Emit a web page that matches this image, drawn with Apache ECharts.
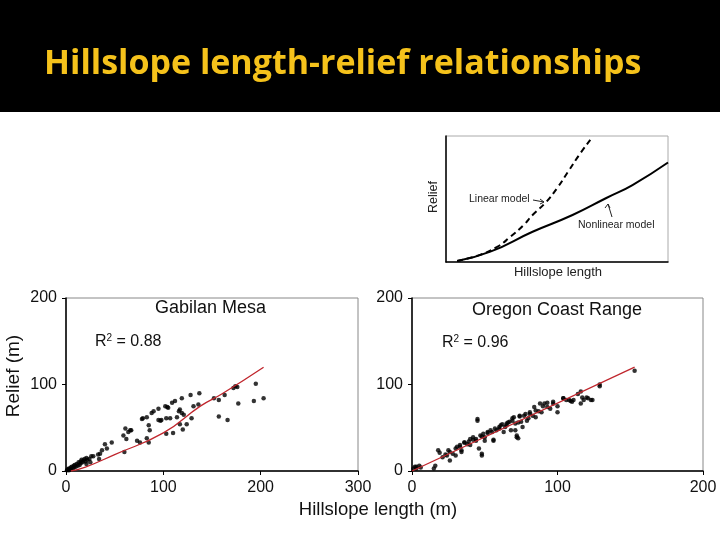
<!DOCTYPE html>
<html>
<head>
<meta charset="utf-8">
<script src="https://cdn.jsdelivr.net/npm/echarts@6/dist/echarts.min.js"></script>
<style>
  html, body { margin: 0; padding: 0; background: #fff; }
  #main { width: 720px; height: 540px; }
</style>
</head>
<body>
<div id="main"></div>
<script>
// Gabilan Mesa: hillslope length (m), relief (m)
var gabilanPoints = [
  [1,1],[2,2],[3,1],[3,3],[4,2],[5,4],[5,2],[6,5],[7,3],[8,6],[8,4],[9,7],[10,5],[11,8],
  [12,6],[13,10],[14,7],[15,11],[15,9],[16,13],[17,10],[18,12],[19,14],[20,11],[21,15],
  [22,13],[24,14],[25,10],[26,17],[21,8],
  [28,17],[33,19],[34,14],[35,20],[37,24],[40,31],[42,26],[47,33],
  [59,41],[60,22],[61,49],[62,37],[64,45],[66,47],[67,47],
  [73,35],[76,33],[78,60],[79,61],[83,62],[83,38],[85,53],[85,33],[86,47],[88,67],
  [90,69],[95,72],[95,59],[97,58],[98,59],[102,75],[103,61],[103,43],[104,74],[105,73],
  [107,61],[109,79],[110,44],[112,81],[114,62],[116,69],[117,71],[117,54],[119,67],
  [119,84],[120,48],[121,65],[124,54],[128,88],[129,61],[131,75],[136,77],[137,90],
  [152,84],[157,82],[157,63],[163,88],[166,59],[172,96],[174,98],[176,97],[177,78],
  [193,81],[195,101],[203,84]
];
var gabilanFit = [[5,0],[20,4.5],[50,19],[100,44],[138,75],[160,89],[203,120]];

// Oregon Coast Range
var oregonPoints = [
  [1,3],[2,5],[3,5],[3,3],[5,6],[6,4],[15,3],[16,6],[18,24],[19,21],[21,16],[23,19],
  [24,18],[25,24],[26,22],[26,12],[28,20],[30,18],[30,26],[31,28],[33,30],[33,28],
  [34,22],[34,24],[36,33],[36,33],[39,34],[38,31],[40,30],[40,37],[42,36],[42,39],
  [44,37],[44,35],[45,60],[45,58],[46,26],[48,40],[48,18],[48,20],[47,41],[49,43],
  [50,39],[50,35],[52,44],[52,45],[54,47],[55,45],[56,35],[56,36],[57,49],[58,47],
  [60,51],[60,49],[61,53],[62,54],[63,45],[64,51],[65,53],[65,55],[66,56],[67,57],
  [68,47],[69,58],[69,61],[70,62],[71,55],[71,47],[72,41],[72,39],[73,38],[73,56],
  [74,63],[74,64],[75,57],[76,51],[77,64],[78,66],[79,58],[80,61],[81,66],[81,68],
  [83,64],[84,74],[85,62],[85,70],[87,69],[88,78],[89,68],[90,75],[91,78],[93,79],
  [93,74],[95,72],[97,78],[97,80],[100,75],[100,68],[104,84],[104,84],[106,82],
  [108,82],[109,81],[110,80],[111,82],[114,89],[116,92],[116,78],[117,85],[118,82],
  [120,85],[121,84],[123,82],[124,82],[129,98],[129,100],[153,116]
];
var oregonFit = [[0,0],[153,120]];

// schematic inset (arbitrary units)
var nonlinearModel = [[5,0.8],[20,8.2],[39,24],[57,37.3],[72,50.6],[84,61.1],[100,79]];
var linearModel = [[5,0.8],[15,5.5],[23,12],[29,20],[35,29.4],[39,37.3],[45,47.4],[50,58.5],[55,71.7],[60,85],[65,97]];

var myChart = echarts.init(document.getElementById('main'));
var font = 'Liberation Sans, Arial, sans-serif';

function xAx(idx, max, show) {
  return {
    type: 'value', gridIndex: idx, min: 0, max: max, interval: show ? 100 : null,
    axisLine: { show: true, onZero: false, lineStyle: { color: '#000', width: 1.5 } },
    axisTick: { show: show, length: 4, lineStyle: { color: '#000' } },
    axisLabel: { show: show, color: '#111', fontSize: 16, fontFamily: font, margin: 9 },
    splitLine: { show: false }
  };
}
function yAx(idx, max, show) {
  return {
    type: 'value', gridIndex: idx, min: 0, max: max, interval: show ? 100 : null,
    axisLine: { show: true, onZero: false, lineStyle: { color: '#000', width: 1.5 } },
    axisTick: { show: show, length: 4, lineStyle: { color: '#000' } },
    axisLabel: { show: show, color: '#111', fontSize: 16, fontFamily: font, margin: 9 },
    splitLine: { show: false }
  };
}

function rText(x, y, val) {
  return {
    type: 'text', left: x, top: y,
    style: {
      text: '{a|R}{s|2}{a| = ' + val + '}',
      rich: {
        a: { fontSize: 16, fontFamily: font, fill: '#111' },
        s: { fontSize: 10, fontFamily: font, fill: '#111', verticalAlign: 'top', padding: [0, 0, 7, 0] }
      }
    }
  };
}

var option = {
  backgroundColor: '#fff',
  animation: false,
  grid: [
    { left: 66, top: 298, width: 292, height: 173, show: true, borderColor: '#888', borderWidth: 1 },
    { left: 412, top: 298, width: 291, height: 173, show: true, borderColor: '#888', borderWidth: 1 },
    { left: 446, top: 136, width: 222, height: 126, show: true, borderColor: '#aaa', borderWidth: 1 }
  ],
  xAxis: [xAx(0, 300, true), xAx(1, 200, true), xAx(2, 100, false)],
  yAxis: [yAx(0, 200, true), yAx(1, 200, true), yAx(2, 100, false)],
  series: [
    { type: 'scatter', xAxisIndex: 0, yAxisIndex: 0, data: gabilanPoints, symbolSize: 4.5, itemStyle: { color: '#000' } },
    { type: 'line', xAxisIndex: 0, yAxisIndex: 0, data: gabilanFit, smooth: true, showSymbol: false, lineStyle: { color: '#c0262d', width: 1.3 } },
    { type: 'scatter', xAxisIndex: 1, yAxisIndex: 1, data: oregonPoints, symbolSize: 4.5, itemStyle: { color: '#000' } },
    { type: 'line', xAxisIndex: 1, yAxisIndex: 1, data: oregonFit, showSymbol: false, lineStyle: { color: '#c0262d', width: 1.3 } },
    { type: 'line', xAxisIndex: 2, yAxisIndex: 2, data: nonlinearModel, smooth: true, showSymbol: false, lineStyle: { color: '#000', width: 2 } },
    { type: 'line', xAxisIndex: 2, yAxisIndex: 2, data: linearModel, smooth: true, showSymbol: false, lineStyle: { color: '#000', width: 2, type: [6, 4] } }
  ],
  graphic: [
    { type: 'rect', shape: { x: 0, y: 0, width: 720, height: 112 }, style: { fill: '#000' } },
    { type: 'text', x: 44, y: 64, style: { text: 'Hillslope length-relief relationships', fill: '#f5c21b', fontSize: 34, fontWeight: 'bold', fontFamily: 'Open Sans, sans-serif', verticalAlign: 'middle' } },
    { type: 'text', left: 155, top: 299, style: { text: 'Gabilan Mesa', fill: '#111', fontSize: 18, fontFamily: font } },
    { type: 'text', left: 472, top: 301, style: { text: 'Oregon Coast Range', fill: '#111', fontSize: 18, fontFamily: font } },
    rText(95, 333, '0.88'),
    rText(442, 334, '0.96'),
    { type: 'text', x: 14, y: 376, rotation: Math.PI / 2, style: { text: 'Relief (m)', fill: '#111', fontSize: 19, fontFamily: font, align: 'center', verticalAlign: 'middle' } },
    { type: 'text', x: 378, y: 510, style: { text: 'Hillslope length (m)', fill: '#111', fontSize: 18.5, fontFamily: font, align: 'center', verticalAlign: 'middle' } },
    { type: 'text', x: 434, y: 197, rotation: Math.PI / 2, style: { text: 'Relief', fill: '#222', fontSize: 12.5, fontFamily: font, align: 'center', verticalAlign: 'middle' } },
    { type: 'text', x: 558, y: 272, style: { text: 'Hillslope length', fill: '#222', fontSize: 13, fontFamily: font, align: 'center', verticalAlign: 'middle' } },
    { type: 'text', x: 469, y: 199, style: { text: 'Linear model', fill: '#222', fontSize: 10.5, fontFamily: font, verticalAlign: 'middle' } },
    { type: 'polyline', shape: { points: [[533, 200], [544, 202]] }, style: { stroke: '#222', lineWidth: 1 } },
    { type: 'polyline', shape: { points: [[540, 199], [544, 202], [540, 204]] }, style: { stroke: '#222', lineWidth: 1, fill: null } },
    { type: 'text', x: 578, y: 225, style: { text: 'Nonlinear model', fill: '#222', fontSize: 10.5, fontFamily: font, verticalAlign: 'middle' } },
    { type: 'polyline', shape: { points: [[612, 217], [608, 204]] }, style: { stroke: '#222', lineWidth: 1 } },
    { type: 'polyline', shape: { points: [[605, 208], [608, 204], [610, 208]] }, style: { stroke: '#222', lineWidth: 1, fill: null } }
  ]
};

myChart.setOption(option);
</script>
</body>
</html>
